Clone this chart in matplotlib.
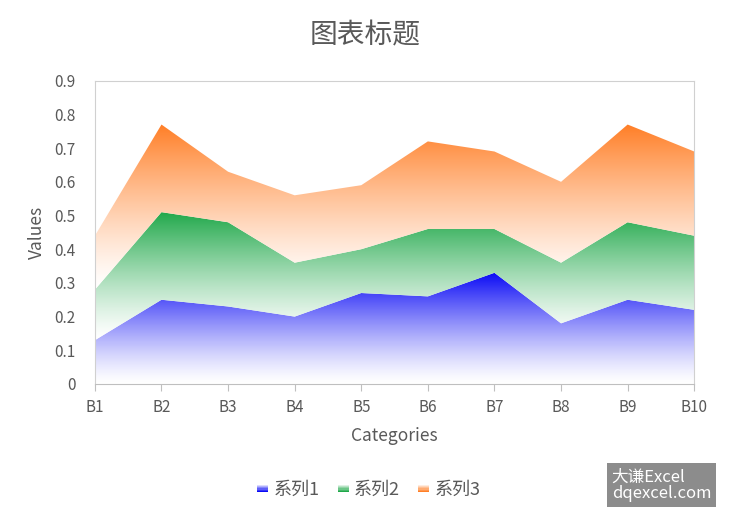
import matplotlib
matplotlib.use('Agg')
import matplotlib.pyplot as plt
import numpy as np
from matplotlib.colors import LinearSegmentedColormap
from matplotlib.patches import Polygon, Rectangle
from matplotlib.legend_handler import HandlerBase

plt.rcParams['font.family'] = ['Noto Sans CJK SC', 'DejaVu Sans']

categories = ['B1', 'B2', 'B3', 'B4', 'B5', 'B6', 'B7', 'B8', 'B9', 'B10']
series1 = [0.13, 0.25, 0.23, 0.20, 0.27, 0.26, 0.33, 0.18, 0.25, 0.22]
series2 = [0.15, 0.26, 0.25, 0.16, 0.13, 0.20, 0.13, 0.18, 0.23, 0.22]
series3 = [0.16, 0.26, 0.15, 0.20, 0.19, 0.26, 0.23, 0.24, 0.29, 0.25]
names = ['系列1', '系列2', '系列3']
colors = ['#0A0AF5', '#20A84A', '#FF7F27']

grey = '#595959'

fig = plt.figure(figsize=(7.3, 5.21), dpi=100)
ax = fig.add_axes([0.130, 0.263, 0.821, 0.582])

x = np.arange(len(categories))
lower = np.zeros(len(x))
for vals, col in zip([series1, series2, series3], colors):
    upper = lower + np.array(vals)
    verts = list(zip(x, upper)) + list(zip(x[::-1], lower[::-1]))
    poly = Polygon(verts, closed=True, facecolor='none', edgecolor='none')
    ax.add_patch(poly)
    cmap = LinearSegmentedColormap.from_list('g', ['white', col])
    y0, y1 = lower.min(), upper.max()
    grad = np.linspace(0, 1, 256).reshape(-1, 1) ** 1.3
    im = ax.imshow(grad, cmap=cmap, aspect='auto', origin='lower',
                   extent=[x[0], x[-1], y0, y1], interpolation='bilinear')
    im.set_clip_path(poly)
    lower = upper

ax.set_xlim(x[0], x[-1])
ax.set_ylim(0, 0.9)
ax.set_xticks(x)
ax.set_xticklabels(categories)
ax.set_yticks(np.arange(0, 0.91, 0.1))
ax.set_yticklabels(['0'] + ['%.1f' % v for v in np.arange(0.1, 0.91, 0.1)])
ax.tick_params(axis='y', length=0, colors=grey, labelsize=11, pad=14)
ax.tick_params(axis='x', length=5, color='#BFBFBF', labelcolor=grey, labelsize=11, pad=6)
for s in ['left', 'top', 'right']:
    ax.spines[s].set_color('#D0D0D0')
ax.spines['bottom'].set_color('#BFBFBF')
ax.set_xlabel('Categories', color=grey, fontsize=12.5, labelpad=8)
ax.set_ylabel('Values', color=grey, fontsize=12.5, labelpad=6)

fig.text(0.5, 0.932, '图表标题', ha='center', va='center', fontsize=20, color=grey)


class GradHandler(HandlerBase):
    def create_artists(self, legend, orig_handle, xdescent, ydescent, width, height, fontsize, trans):
        cmap = LinearSegmentedColormap.from_list('g', ['white', orig_handle.get_facecolor()])
        arts = []
        n = 6
        w = 8
        for i in range(n):
            r = Rectangle((width - w, height * 0.2 + i * height * 0.6 / n), w, height * 0.6 / n,
                          facecolor=cmap(1 - i / (n - 1) * 0.85), edgecolor='none', transform=trans)
            arts.append(r)
        return arts


handles = [Rectangle((0, 0), 1, 1, facecolor=c) for c in colors]
leg = fig.legend(handles, names, loc='center', bbox_to_anchor=(0.503, 0.06), ncol=3,
                 frameon=False, fontsize=13, handler_map={Rectangle: GradHandler()},
                 handlelength=0.8, handletextpad=0.3, columnspacing=0.8)
for t in leg.get_texts():
    t.set_color(grey)

fig.text(0.838, 0.069, '大谦Excel\ndqexcel.com', ha='left', va='center', fontsize=12,
         color='white', linespacing=0.95,
         bbox=dict(boxstyle='square,pad=0.3', facecolor='#8C8C8C', edgecolor='none'))

fig.savefig('out.png', dpi=100)
